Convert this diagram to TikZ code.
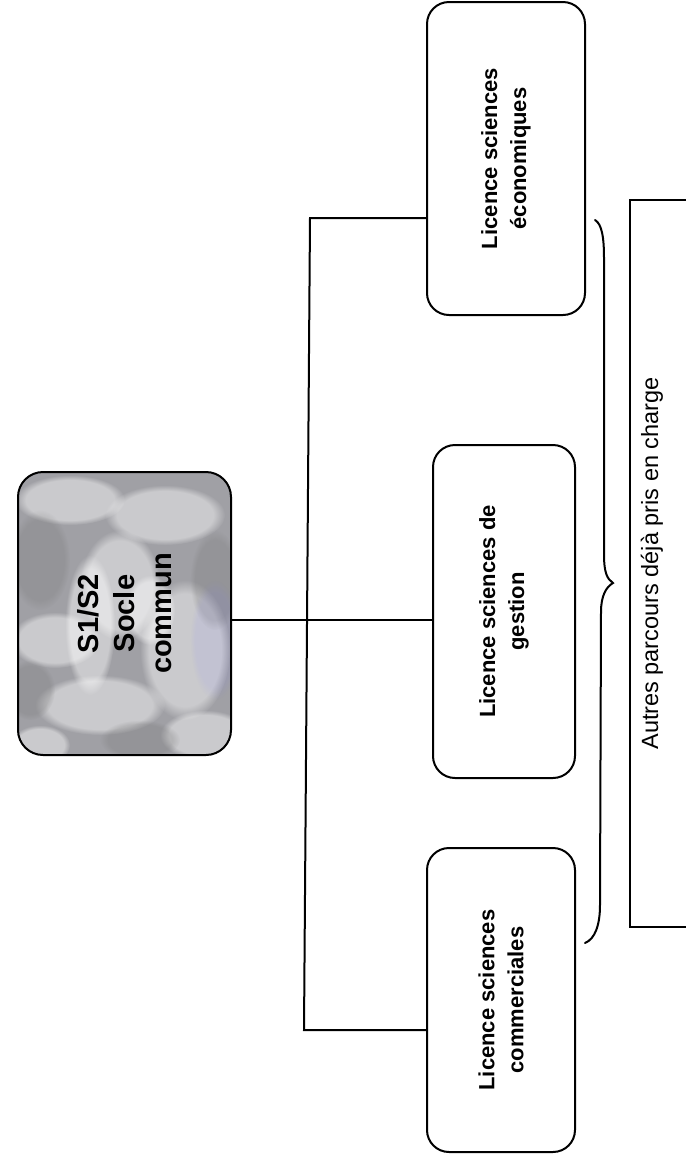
\documentclass[tikz,border=0pt]{standalone}
\usepackage{fontspec}
\setmainfont{Liberation Sans}
\usetikzlibrary{fadings}
\definecolor{graybase}{RGB}{160,160,165}
\begin{document}
\begin{tikzpicture}[x=1pt,y=-1pt,
  lbox/.style={draw, line width=2pt, rounded corners=22pt, rotate=90, align=center,
    font=\bfseries\fontsize{22}{29}\selectfont, inner sep=0pt, outer sep=0pt},
  sbox/.style={draw, line width=2pt, rounded corners=25pt, rotate=90, align=center,
    font=\bfseries\fontsize{29}{36.5}\selectfont, inner sep=0pt, outer sep=0pt},
  conn/.style={line width=2pt},
  blob/.style={fill=white, opacity=0.45, path fading=circle with fuzzy edge 20 percent},
  dblob/.style={fill=black!55, opacity=0.25, path fading=circle with fuzzy edge 20 percent}]
\useasboundingbox (0,0) rectangle (686,1163);

% textured grey box background
\fill[graybase, rounded corners=25pt] (18,472) rectangle (231,755);
\begin{scope}
  \clip[rounded corners=25pt] (18,472) rectangle (231,755);
  \fill[blob] (70,500) ellipse (55 and 25);
  \fill[blob] (165,515) ellipse (60 and 30);
  \fill[blob] (120,585) ellipse (40 and 55);
  \fill[blob] (55,640) ellipse (45 and 28);
  \fill[blob] (185,650) ellipse (45 and 70);
  \fill[blob] (100,705) ellipse (65 and 30);
  \fill[blob] (205,735) ellipse (45 and 25);
  \fill[blob] (40,745) ellipse (30 and 20);
  \fill[blob] (150,610) ellipse (25 and 35);
  \fill[blob] (90,625) ellipse (25 and 70);
  \fill[dblob] (40,560) ellipse (30 and 50);
  \fill[dblob] (215,580) ellipse (25 and 50);
  \fill[dblob] (140,740) ellipse (40 and 20);
  \fill[dblob] (30,690) ellipse (25 and 30);
  \fill[blue!50, opacity=0.1, path fading=circle with fuzzy edge 20 percent] (215,640) ellipse (25 and 60);
\end{scope}

% nodes
\node[sbox, minimum width=283pt, minimum height=213pt] (socle) at (124.5,613.5) {S1/S2\\Socle\\commun};
\node[lbox, minimum width=313pt, minimum height=158pt] (econ) at (506,158.5) {Licence sciences\\économiques};
\node[lbox, minimum width=333pt, minimum height=142pt] (gest) at (504,611.5) {Licence sciences de\\gestion};
\node[lbox, minimum width=304pt, minimum height=148pt] (comm) at (501,1000) {Licence sciences\\commerciales};
\node[draw, line width=2pt, rotate=90, minimum width=727pt, minimum height=57pt, inner sep=0pt, outer sep=0pt] (autres) at (658.5,563.5) {};
\node[rotate=90, font=\fontsize{23.5}{28}\selectfont, inner sep=0pt] (autrestxt) at (652,563.5) {Autres parcours déjà pris en charge};

% connectors
\coordinate (t) at (310,218);
\coordinate (m) at (307,620);
\coordinate (b) at (304,1030);
\draw[conn] (t -| econ.north) -- (t) -- (b) -- (b -| comm.north);
\draw[conn] (socle.south |- m) -- (gest.north |- m);

% brace
\draw[line width=2pt, line cap=round]
  (595,220) .. controls (602,224) and (604,238) .. (604,258)
  -- (604,555) .. controls (604,572) and (607,579) .. (613,583)
  .. controls (606,587) and (601,596) .. (601,612)
  -- (600,905) .. controls (600,925) and (595,939) .. (585,943);
\end{tikzpicture}
\end{document}
